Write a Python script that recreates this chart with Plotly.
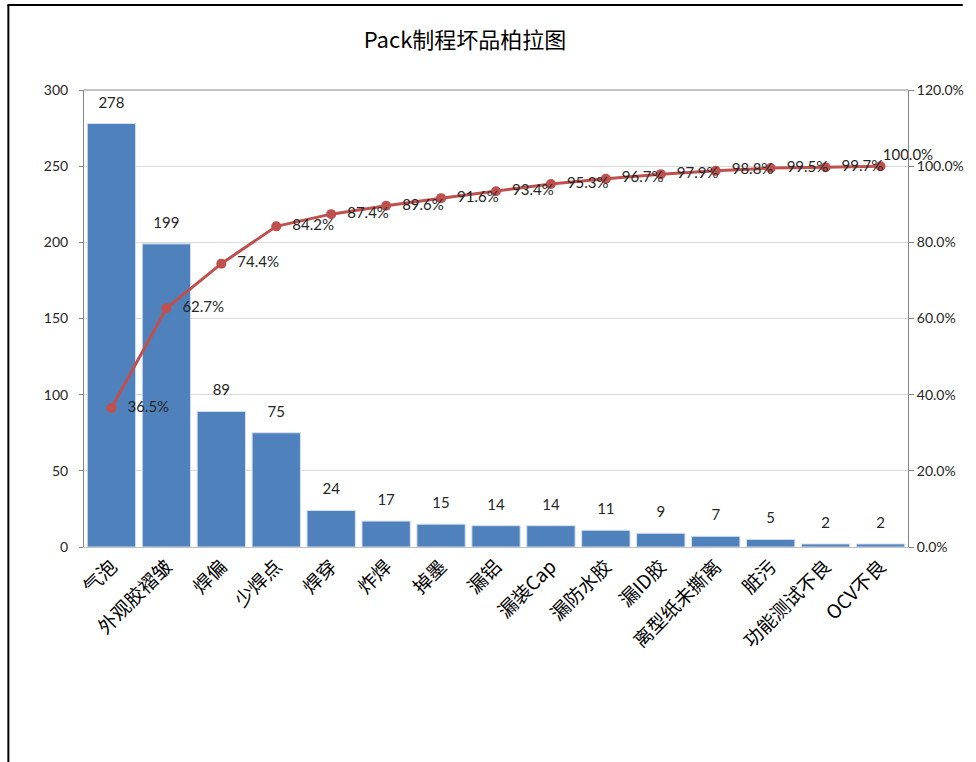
import plotly.graph_objects as go

categories = ["气泡", "外观胶褶皱", "焊偏", "少焊点", "焊穿", "炸焊", "掉墨", "漏铝",
              "漏装Cap", "漏防水胶", "漏ID胶", "离型纸未撕离", "脏污", "功能测试不良", "OCV不良"]
counts = [278, 199, 89, 75, 24, 17, 15, 14, 14, 11, 9, 7, 5, 2, 2]
cum_pct = [36.5, 62.7, 74.4, 84.2, 87.4, 89.6, 91.6, 93.4, 95.3, 96.7, 97.9, 98.8, 99.5, 99.7, 100.0]

left_ticks = [0, 50, 100, 150, 200, 250, 300]
right_ticks = [0, 0.2, 0.4, 0.6, 0.8, 1.0, 1.2]

num_font = dict(family="Lato, Liberation Sans, sans-serif", size=14, color="#262626")
lbl_font = dict(family="Lato, Liberation Sans, sans-serif", size=15, color="#262626")

fig = go.Figure()
fig.add_trace(go.Bar(
    x=categories, y=counts,
    marker=dict(color="#4F81BD", line=dict(color="#D6E0F0", width=1)),
    showlegend=False, hoverinfo="skip",
))
# bar value labels
fig.add_trace(go.Scatter(
    x=categories, y=counts, mode="markers+text",
    marker=dict(size=18, opacity=0),
    text=[str(v) for v in counts], textposition="top center",
    textfont=lbl_font, cliponaxis=False, showlegend=False, hoverinfo="skip",
))
fracs = [p / 100 for p in cum_pct]
fig.add_trace(go.Scatter(
    x=categories, y=fracs, yaxis="y2",
    mode="lines+markers",
    line=dict(color="#C0504D", width=3),
    marker=dict(color="#C0504D", size=10),
    cliponaxis=False, showlegend=False,
))
# cumulative percent labels (all but last)
fig.add_trace(go.Scatter(
    x=categories[:-1], y=fracs[:-1], yaxis="y2",
    mode="markers+text",
    marker=dict(size=24, opacity=0),
    text=[f"{p:.1f}%" for p in cum_pct[:-1]],
    textposition="middle right",
    textfont=lbl_font, cliponaxis=False, showlegend=False, hoverinfo="skip",
))
# last label sits just above-right of its point
fig.add_trace(go.Scatter(
    x=categories[-1:], y=fracs[-1:], yaxis="y2",
    mode="markers+text",
    marker=dict(size=2, opacity=0),
    text=[f"{p:.1f}%" for p in cum_pct[-1:]],
    textposition="top right",
    textfont=lbl_font, cliponaxis=False, showlegend=False, hoverinfo="skip",
))

W, H = 976, 762
ml, mr, mt, mb = 84, 64, 90, 215
pw, ph = W - ml - mr, H - mt - mb

def px_x(x):
    return (x - ml) / pw

def px_y(y):
    return (H - mb - y) / ph

fig.update_layout(
    width=W, height=H,
    margin=dict(l=ml, r=mr, t=mt, b=mb),
    paper_bgcolor="white", plot_bgcolor="white",
    bargap=0.12,
    title=dict(text="Pack制程坏品柏拉图", x=465 / W, xanchor="center", y=1 - 40 / H, yanchor="middle",
               font=dict(family="Noto Sans CJK SC", size=22, color="#000000")),
    xaxis=dict(
        range=[-0.5, len(categories) - 0.5], autorange=False,
        tickangle=-45, tickfont=dict(family="Noto Sans CJK SC", size=19, color="#000000"),
        showline=True, linecolor="#BFBFBF", linewidth=1, mirror=False, ticks="",
        showgrid=False,
    ),
    yaxis=dict(
        range=[0, 300], tickvals=left_ticks, tickfont=num_font,
        showgrid=True, gridcolor="#D9D9D9", gridwidth=1,
        showline=True, linecolor="#868686", linewidth=1, ticks="outside", ticklen=4, tickcolor="#868686",
        zeroline=False, ticklabelstandoff=8,
    ),
    yaxis2=dict(
        range=[0, 1.2], tickvals=right_ticks, tickformat=".1%", overlaying="y", side="right",
        tickfont=num_font, showgrid=False, showline=True, linecolor="#868686", linewidth=1,
        ticks="outside", ticklen=5, tickcolor="#868686", zeroline=False,
    ),
    shapes=[
        dict(type="line", xref="paper", yref="paper", x0=0, x1=1, y0=1, y1=1,
             line=dict(color="#868686", width=1)),
        dict(type="line", xref="paper", yref="paper", x0=px_x(7), x1=px_x(967), y0=px_y(5), y1=px_y(5),
             line=dict(color="#000000", width=2)),
        dict(type="line", xref="paper", yref="paper", x0=px_x(8), x1=px_x(8), y0=px_y(5), y1=px_y(770),
             line=dict(color="#000000", width=2)),
    ],
)

fig.write_html("out.html")
